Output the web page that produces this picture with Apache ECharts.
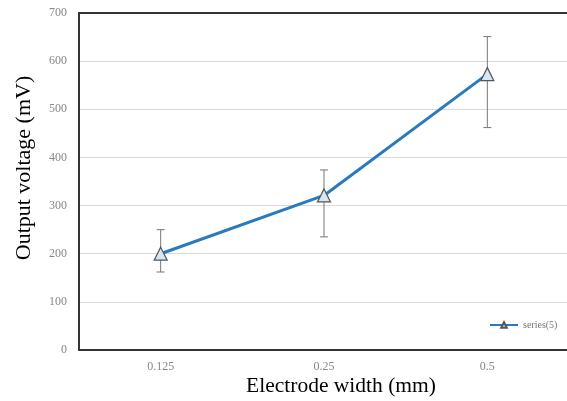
<html>
<head>
    <meta charset="utf-8">
    <title>Electrode width</title>
    <script src="https://cdn.jsdelivr.net/npm/echarts@6/dist/echarts.min.js"></script>
</head>
<body style="margin:0;">
    <div id="chartmain" style="width:567px; height:401px;"></div>

    <script type="text/javascript">
        // data
        var widths = ['0.125', '0.25', '0.5'];
        var voltage = [200, 321, 573];
        var errLow = [162, 235, 462];
        var errHigh = [250, 374, 651];

        var errData = widths.map(function (w, i) {
            return [i, errLow[i], errHigh[i]];
        });

        var serif = '"Liberation Serif", "DejaVu Serif", serif';

        var myChart = echarts.init(document.getElementById('chartmain'));

        myChart.setOption({
            animation: false,
            backgroundColor: '#fff',
            grid: {
                left: 79,
                top: 13,
                width: 490,
                height: 337,
                outerBoundsMode: 'none',
                containLabel: false
            },
            // axis titles placed as text
            graphic: [
                {
                    type: 'text',
                    x: 24,
                    y: 168,
                    rotation: Math.PI / 2,
                    style: {
                        text: 'Output voltage (mV)',
                        fontFamily: serif,
                        fontSize: 22,
                        fill: '#000',
                        align: 'center',
                        verticalAlign: 'middle'
                    }
                },
                {
                    type: 'text',
                    x: 341,
                    y: 386,
                    style: {
                        text: 'Electrode width (mm)',
                        fontFamily: serif,
                        fontSize: 21.5,
                        fill: '#000',
                        align: 'center',
                        verticalAlign: 'middle'
                    }
                }
            ],
            legend: {
                left: 484,
                top: 315,
                itemWidth: 28,
                itemHeight: 7,
                itemGap: 2,
                textStyle: {
                    fontFamily: serif,
                    fontSize: 10,
                    color: '#777'
                },
                data: ['series(5)']
            },
            xAxis: [
                {
                    type: 'category',
                    data: widths,
                    boundaryGap: true,
                    axisLine: { lineStyle: { color: '#333', width: 2 } },
                    axisTick: { show: false },
                    axisLabel: {
                        margin: 11,
                        fontFamily: serif,
                        fontSize: 12,
                        color: '#888'
                    }
                },
                {
                    // top frame line
                    type: 'category',
                    position: 'top',
                    data: widths,
                    axisLine: { lineStyle: { color: '#333', width: 2 } },
                    axisTick: { show: false },
                    axisLabel: { show: false }
                }
            ],
            yAxis: {
                type: 'value',
                min: 0,
                max: 700,
                interval: 100,
                axisLine: { show: true, lineStyle: { color: '#333', width: 2 } },
                axisTick: { show: false },
                axisLabel: {
                    margin: 12,
                    fontFamily: serif,
                    fontSize: 12,
                    color: '#888'
                },
                splitLine: { lineStyle: { color: '#d9d9d9', width: 1 } }
            },
            series: [
                {
                    name: 'error',
                    type: 'custom',
                    data: errData,
                    z: 1,
                    renderItem: function (params, api) {
                        var x = api.value(0);
                        var lo = api.coord([x, api.value(1)]);
                        var hi = api.coord([x, api.value(2)]);
                        var cap = 4;
                        var st = { stroke: '#777', lineWidth: 1 };
                        return {
                            type: 'group',
                            children: [
                                { type: 'line', shape: { x1: hi[0], y1: hi[1], x2: lo[0], y2: lo[1] }, style: st },
                                { type: 'line', shape: { x1: hi[0] - cap, y1: hi[1], x2: hi[0] + cap, y2: hi[1] }, style: st },
                                { type: 'line', shape: { x1: lo[0] - cap, y1: lo[1], x2: lo[0] + cap, y2: lo[1] }, style: st }
                            ]
                        };
                    }
                },
                {
                    name: 'series(5)',
                    type: 'line',
                    data: voltage,
                    z: 3,
                    symbol: 'triangle',
                    symbolSize: 13,
                    lineStyle: { color: '#2a7bbd', width: 3 },
                    itemStyle: {
                        color: '#d7e6f3',
                        borderColor: '#555',
                        borderWidth: 1.2
                    }
                }
            ]
        });
    </script>
</body>
</html>
